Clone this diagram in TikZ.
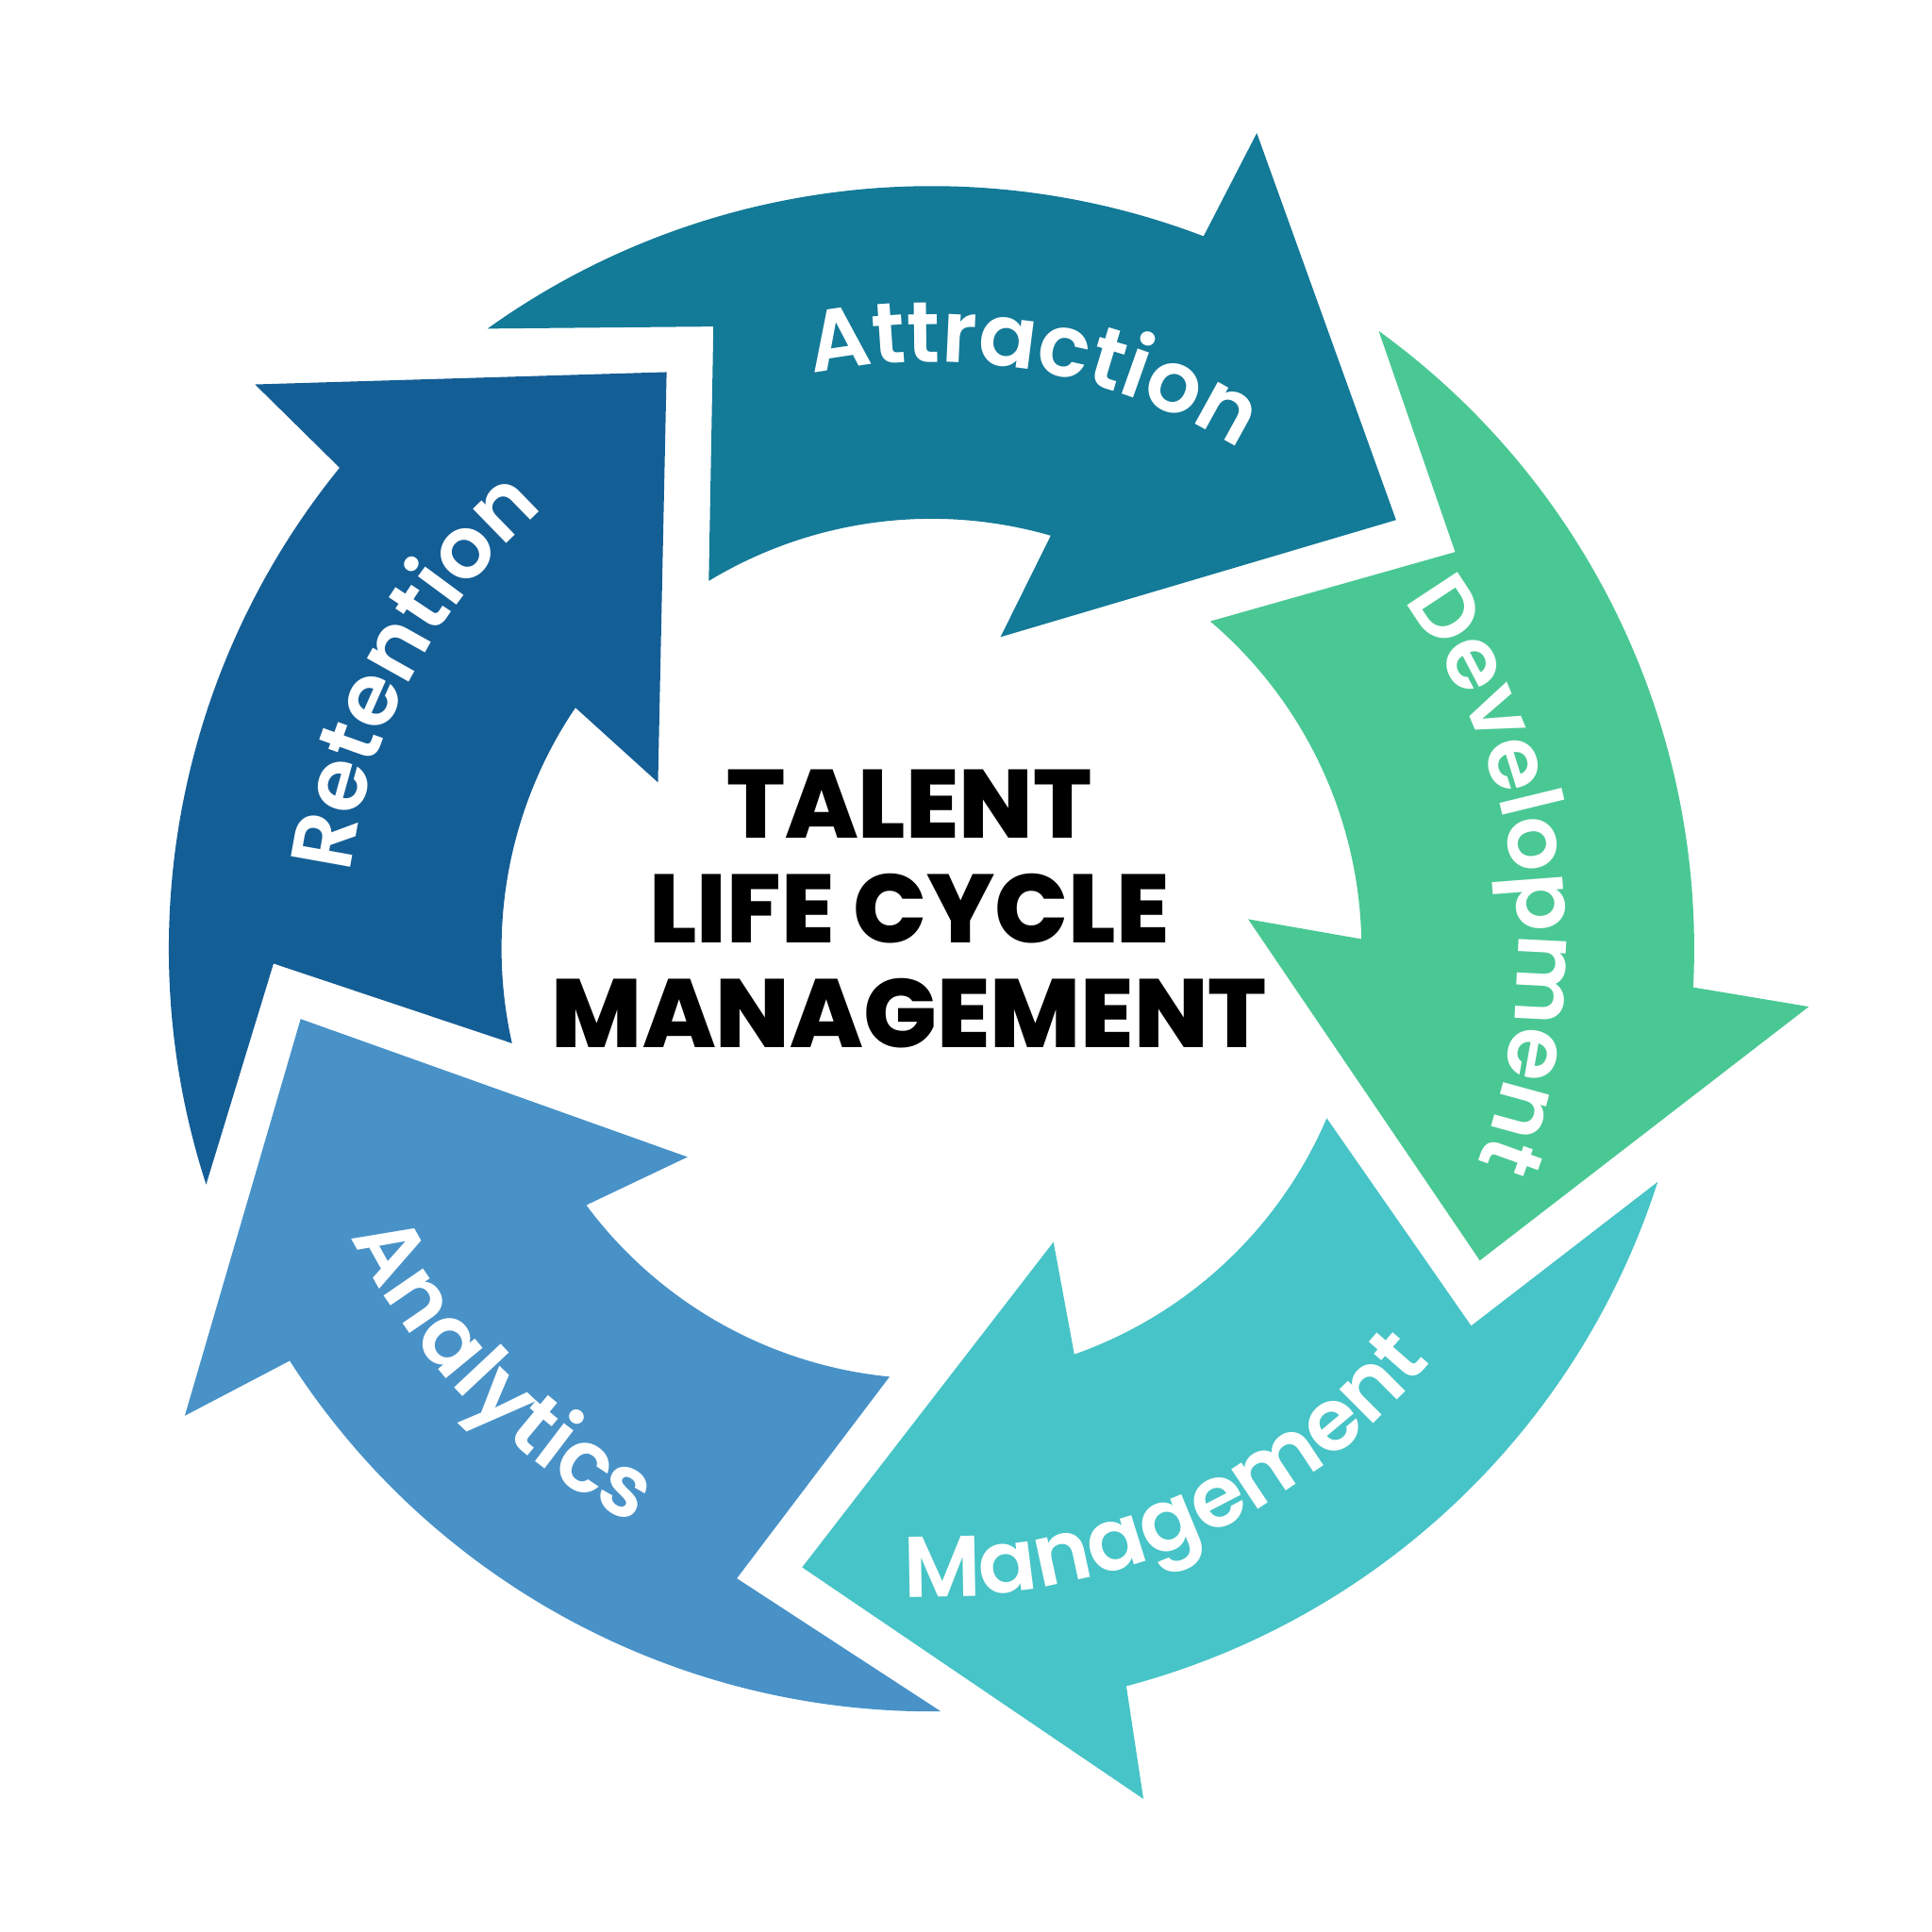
\documentclass[tikz,border=0pt]{standalone}
\usepackage{fontspec}
\usetikzlibrary{calc,decorations.text}
\setmainfont{Poppins}
\IfFontExistsTF{Poppins SemiBold}{\newfontfamily\lblfont{Poppins SemiBold}[LetterSpace=3]}{%
  \IfFontExistsTF{Poppins Medium}{\newfontfamily\lblfont{Poppins Medium}[LetterSpace=3]}{\newfontfamily\lblfont{Poppins}[LetterSpace=3]}}
\IfFontExistsTF{Poppins ExtraBold}{\newfontfamily\ttlfont{Poppins ExtraBold}}{\newcommand\ttlfont{\bfseries}}
\definecolor{cattr}{RGB}{19,122,152}
\definecolor{cdev}{RGB}{74,200,148}
\definecolor{cmgmt}{RGB}{71,196,199}
\definecolor{canal}{RGB}{72,146,200}
\definecolor{cret}{RGB}{20,94,150}
\tikzset{
  lbl/.style={decorate,decoration={text along path,text align=center,
    text={|\lblfont\fontsize{35}{40}\selectfont\color{white}|#1}}}
}
\begin{document}
\begin{tikzpicture}[x=0.5pt,y=0.5pt]
\useasboundingbox (0,0) rectangle (1568,-1568);
\fill[white] (0,0) rectangle (1568,-1568);
\coordinate (C) at (756,-770);
% Attraction
\fill[cattr] ($(C)+(125.6:619)$) arc[start angle=125.6,end angle=69.1,radius=619]
  -- (1020,-108) -- (1133,-422) -- (812,-517)
  -- ($(C)+(73.9:349)$) arc[start angle=73.9,end angle=121.2,radius=349]
  -- (579,-265) -- cycle;
% Development
\fill[cdev] ($(C)+(54.1:619)$) arc[start angle=54.1,end angle=-2.9,radius=619]
  -- (1468,-817) -- (1201,-1023) -- (1013,-746)
  -- ($(C)+(1.3:349)$) arc[start angle=1.3,end angle=49.6,radius=349]
  -- (1181,-448) -- cycle;
% Management
\fill[cmgmt] ($(C)+(-17.8:619)$) arc[start angle=-17.8,end angle=-75.2,radius=619]
  -- (928,-1460) -- (651,-1272) -- (855,-1008)
  -- ($(C)+(-70.6:349)$) arc[start angle=-70.6,end angle=-23.2,radius=349]
  -- (1194,-1076) -- cycle;
% Analytics
\fill[canal] ($(C)+(-89.3:619)$) arc[start angle=-89.3,end angle=-147.3,radius=619]
  -- (150,-1149) -- (244,-827) -- (558,-939)
  -- ($(C)+(-143.4:349)$) arc[start angle=-143.4,end angle=-95.6,radius=349]
  -- (598,-1281) -- cycle;
% Retention
\fill[cret] ($(C)+(198:619)$) arc[start angle=198,end angle=140.9,radius=619]
  -- (207,-312) -- (541,-302) -- (534,-635)
  -- ($(C)+(145.9:349)$) arc[start angle=145.9,end angle=192.7,radius=349]
  -- (222,-782) -- cycle;
% labels
\path[lbl=Attraction] ($(C)+(125:476)$) arc[start angle=125,end angle=35,radius=476];
\path[lbl=Development] ($(C)+(52.5:476)$) arc[start angle=52.5,end angle=-37.5,radius=476];
\path[lbl=Management] ($(C)+(-111:526)$) arc[start angle=-111,end angle=-21,radius=526];
\path[lbl=Analytics] ($(C)+(-180.5:526)$) arc[start angle=-180.5,end angle=-90.5,radius=526];
\path[lbl=Retention] ($(C)+(197:476)$) arc[start angle=197,end angle=107,radius=476];
% title
\node[inner sep=0pt,align=center,font=\ttlfont\fontsize{39.4}{42.5}\selectfont] (title) at (738,-738)
  {TALENT\\LIFE CYCLE\\MANAGEMENT};
\end{tikzpicture}
\end{document}
